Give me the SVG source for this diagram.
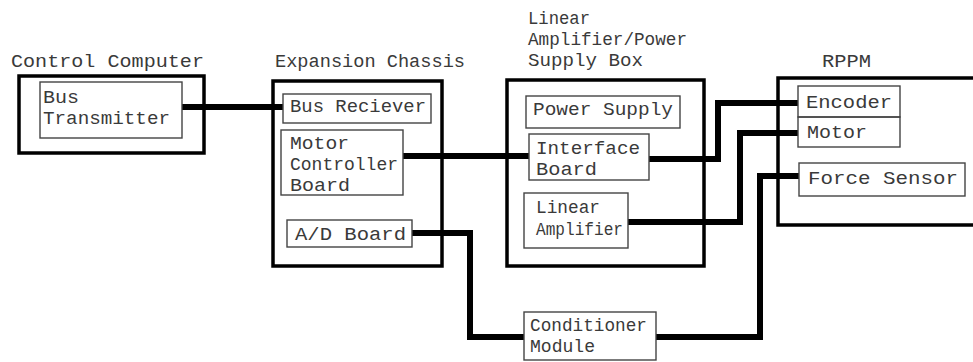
<svg xmlns="http://www.w3.org/2000/svg" width="973" height="362" viewBox="0 0 973 362">
<style>
text{font-family:"Liberation Mono","DejaVu Sans Mono",monospace;font-size:19px;fill:#3a3a3a;}
.outer{fill:none;stroke:#000;stroke-width:3.5;}
.inner{fill:none;stroke:#444;stroke-width:1.4;}
.wire{fill:none;stroke:#000;stroke-width:6;stroke-linejoin:miter;}
</style>
<rect width="973" height="362" fill="#fff"/>
<g id="connectors">
<path class="wire" d="M182,107 H283"/>
<path class="wire" d="M403,156 H529"/>
<path class="wire" d="M649,159 H718 V103 H798"/>
<path class="wire" d="M628,222 H740 V133 H798"/>
<path class="wire" d="M412,233 H470 V337 H524"/>
<path class="wire" d="M656,337 H760 V176 H799"/>
</g>
<g id="control-computer">
<text x="11" y="67" textLength="193" lengthAdjust="spacingAndGlyphs">Control Computer</text>
<rect class="outer" x="19" y="76" width="185" height="77"/>
</g>
<g id="bus-transmitter">
<rect class="inner" x="40" y="82" width="142" height="56"/>
<text x="43" y="103" textLength="36" lengthAdjust="spacingAndGlyphs">Bus</text>
<text x="43" y="124" textLength="127" lengthAdjust="spacingAndGlyphs">Transmitter</text>
</g>
<g id="expansion-chassis">
<text x="275" y="67" textLength="190" lengthAdjust="spacingAndGlyphs">Expansion Chassis</text>
<rect class="outer" x="273" y="81" width="169" height="185"/>
</g>
<g id="bus-receiver">
<rect class="inner" x="283" y="94" width="148" height="29"/>
<text x="290" y="112" textLength="136" lengthAdjust="spacingAndGlyphs">Bus Reciever</text>
</g>
<g id="motor-controller-board">
<rect class="inner" x="281" y="130" width="122" height="65"/>
<text x="290" y="149" textLength="59" lengthAdjust="spacingAndGlyphs">Motor</text>
<text x="290" y="170" textLength="108" lengthAdjust="spacingAndGlyphs">Controller</text>
<text x="290" y="191" textLength="60" lengthAdjust="spacingAndGlyphs">Board</text>
</g>
<g id="ad-board">
<rect class="inner" x="287" y="220" width="125" height="27"/>
<text x="295" y="240" textLength="111" lengthAdjust="spacingAndGlyphs">A/D Board</text>
</g>
<g id="linear-amplifier-power-supply-box">
<text x="528" y="24" textLength="62" lengthAdjust="spacingAndGlyphs">Linear</text>
<text x="528" y="45" textLength="159" lengthAdjust="spacingAndGlyphs">Amplifier/Power</text>
<text x="528" y="66" textLength="115" lengthAdjust="spacingAndGlyphs">Supply Box</text>
<rect class="outer" x="507" y="80" width="197" height="186"/>
</g>
<g id="power-supply">
<rect class="inner" x="526" y="96" width="154" height="32"/>
<text x="533" y="115" textLength="140" lengthAdjust="spacingAndGlyphs">Power Supply</text>
</g>
<g id="interface-board">
<rect class="inner" x="529" y="134" width="120" height="46"/>
<text x="536" y="154" textLength="104" lengthAdjust="spacingAndGlyphs">Interface</text>
<text x="536" y="175" textLength="61" lengthAdjust="spacingAndGlyphs">Board</text>
</g>
<g id="linear-amplifier">
<rect class="inner" x="524" y="193" width="104" height="55"/>
<text x="536" y="213" textLength="64" lengthAdjust="spacingAndGlyphs">Linear</text>
<text x="536" y="235" textLength="87" lengthAdjust="spacingAndGlyphs">Amplifier</text>
</g>
<g id="rppm">
<text x="822" y="67" textLength="49" lengthAdjust="spacingAndGlyphs">RPPM</text>
<path class="outer" d="M975,78 H778 V225 H975"/>
</g>
<g id="encoder">
<rect class="inner" x="798" y="86" width="102" height="31"/>
<text x="806" y="108" textLength="86" lengthAdjust="spacingAndGlyphs">Encoder</text>
</g>
<g id="motor">
<rect class="inner" x="798" y="117" width="102" height="30"/>
<text x="807" y="138" textLength="60" lengthAdjust="spacingAndGlyphs">Motor</text>
</g>
<g id="force-sensor">
<rect class="inner" x="799" y="163" width="166" height="33"/>
<text x="808" y="184" textLength="150" lengthAdjust="spacingAndGlyphs">Force Sensor</text>
</g>
<g id="conditioner-module">
<rect class="inner" x="524" y="312" width="132" height="48"/>
<text x="530" y="331" textLength="117" lengthAdjust="spacingAndGlyphs">Conditioner</text>
<text x="530" y="352" textLength="65" lengthAdjust="spacingAndGlyphs">Module</text>
</g>
</svg>
